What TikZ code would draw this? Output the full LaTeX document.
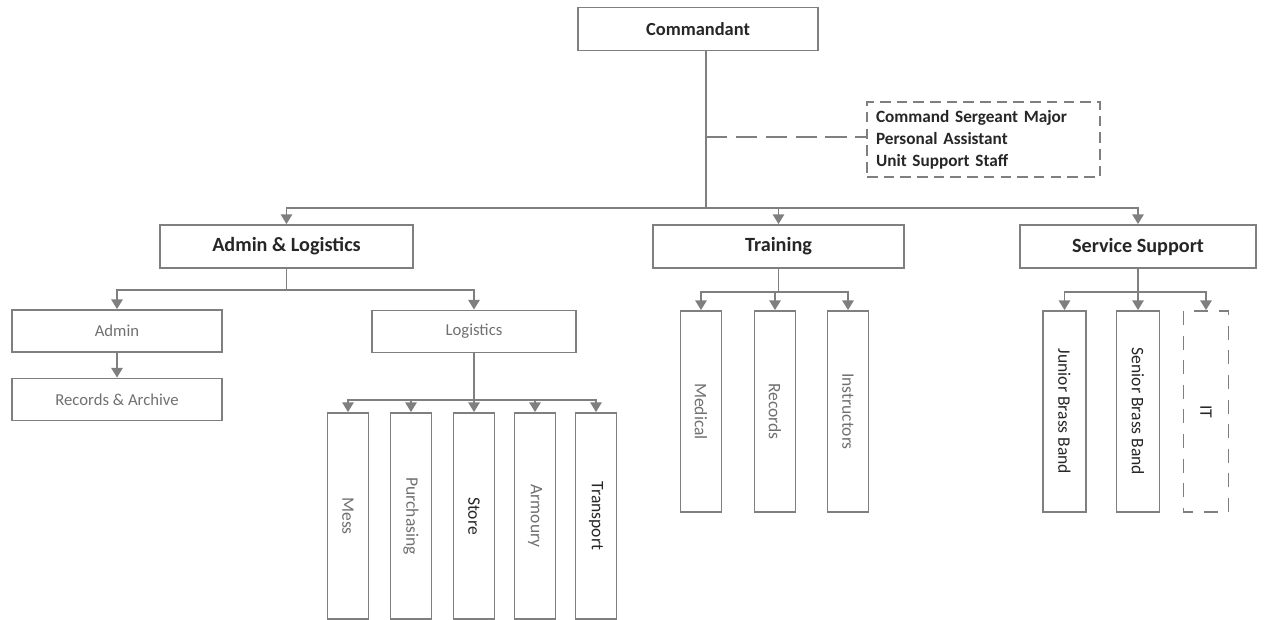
\documentclass[tikz,border=0pt]{standalone}
\usepackage{fontspec}
\setmainfont{Carlito}
\usetikzlibrary{arrows.meta}
\definecolor{ln}{HTML}{7F7F7F}
\definecolor{dk}{HTML}{262626}
\definecolor{gt}{HTML}{707070}
\tikzset{
  box/.style={draw=ln, line width=1.1pt, rectangle, inner sep=0pt, align=center},
  top/.style={box, font=\bfseries\fontsize{10.5}{12}\selectfont, text=dk},
  mid/.style={box, font=\bfseries\fontsize{11.5}{13}\selectfont, text=dk, minimum height=0.86cm},
  sub/.style={box, font=\fontsize{9.5}{11}\selectfont, text=gt, minimum height=0.84cm, minimum width=4.2cm},
  tall/.style={box, rotate=-90, font=\fontsize{10}{12}\selectfont, text=gt, minimum height=0.82cm},
  conn/.style={draw=ln, line width=0.85pt},
  arr/.style={conn, -{Triangle[width=6.5pt,length=5.5pt]}},
}
\begin{document}
\begin{tikzpicture}[x=0.02cm, y=-0.02cm]
\useasboundingbox (0,0) rectangle (1266,619);
% top
\node[top, minimum width=4.8cm, minimum height=0.86cm] (cmd) at (698,29) {Commandant};
\node[box, dashed, dash pattern=on 6pt off 3.5pt, text=dk, font=\bfseries\fontsize{9.8}{12.6}\selectfont,
      align=left, text width=4.3cm, inner xsep=0.18cm, minimum height=1.5cm] (csm) at (983.5,139.5)
      {Command Sergeant Major\\Personal Assistant\\Unit Support Staff};
% level 2
\node[mid, minimum width=5.06cm] (al) at (286.5,246.5) {Admin \& Logistics};
\node[mid, minimum width=5.02cm] (tr) at (778.5,246.5) {Training};
\node[mid, minimum width=4.72cm] (ss) at (1138,246.5) {Service Support};
% admin & logistics
\node[sub] (adm) at (117,331) {Admin};
\node[sub] (rec) at (117,399.5) {Records \& Archive};
\node[sub, minimum width=4.08cm] (log) at (474,331.5) {Logistics};
\node[tall, minimum width=4.12cm] (mess) at (348,516) {Mess};
\node[tall, minimum width=4.12cm] (pur) at (411,516) {Purchasing};
\node[tall, minimum width=4.12cm, text=dk] (sto) at (474,516) {Store};
\node[tall, minimum width=4.12cm] (arm) at (535,516) {Armoury};
\node[tall, minimum width=4.12cm, text=dk] (tra) at (596,516) {Transport};
% training
\node[tall, minimum width=4.02cm] (med) at (701,411.5) {Medical};
\node[tall, minimum width=4.02cm] (rcd) at (775,411.5) {Records};
\node[tall, minimum width=4.02cm] (ins) at (848,411.5) {Instructors};
% service support
\node[tall, minimum width=4.02cm, minimum height=0.86cm, text=dk] (jbb) at (1064.5,411.5) {Junior Brass Band};
\node[tall, minimum width=4.02cm, minimum height=0.86cm, text=dk] (sbb) at (1138,411.5) {Senior Brass Band};
\node[tall, minimum width=4.02cm, minimum height=0.9cm, text=dk, dashed, dash pattern=on 8pt off 6pt] (it) at (1206,411.5) {IT};
% junctions
\coordinate (j0) at (706,208);
\coordinate (j5) at (706,137);
\coordinate (j1) at (286.5,290);
\coordinate (j2) at (474,400);
\coordinate (j3) at (778.5,292);
\coordinate (j4) at (1138,292);
% connectors
\draw[conn] (cmd.south -| j0) -- (j0);
\draw[conn, dashed, dash pattern=on 12pt off 5pt] (j5) -- (j5 -| csm.west);
\draw[arr] (j0) -| (al.north);
\draw[arr] (j0) -| (tr.north);
\draw[arr] (j0) -| (ss.north);
\draw[conn] (al.south) -- (j1);
\draw[arr] (j1) -| (adm.north);
\draw[arr] (j1) -| (log.north);
\draw[arr] (adm.south) -- (rec.north);
\draw[conn] (log.south) -- (j2);
\foreach \n in {mess,pur,sto,arm,tra} \draw[arr] (j2) -| (\n.west);
\draw[conn] (tr.south) -- (j3);
\foreach \n in {med,rcd,ins} \draw[arr] (j3) -| (\n.west);
\draw[conn] (ss.south) -- (j4);
\foreach \n in {jbb,sbb,it} \draw[arr] (j4) -| (\n.west);
\end{tikzpicture}
\end{document}
